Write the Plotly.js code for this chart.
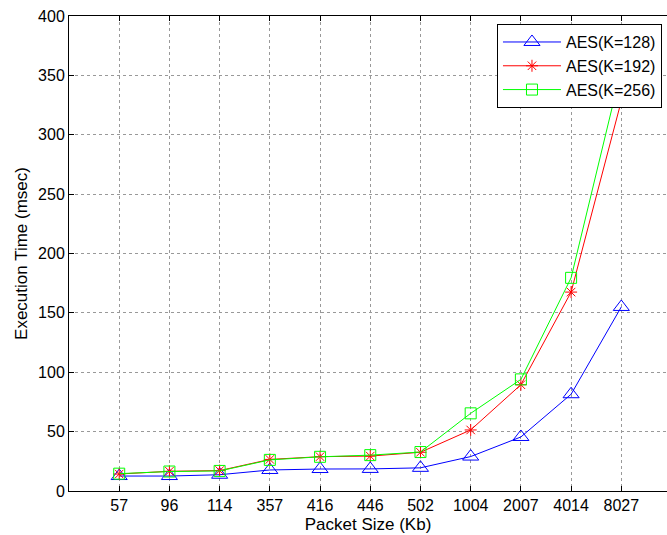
<!DOCTYPE html>
<html>
<head>
<meta charset="utf-8">
<script src="https://cdn.plot.ly/plotly-3.0.1.min.js"></script>
<style>html,body{margin:0;padding:0;background:#fff;}#chart{width:667px;height:535px;}</style>
</head>
<body>
<div id="chart"></div>
<script>
const packetSizes = ["57", "96", "114", "357", "416", "446", "502", "1004", "2007", "4014", "8027"];
const aes128 = [12.6, 12.6, 13.7, 17.7, 18.5, 18.6, 19.5, 29, 45.5, 81.5, 155];
const aes192 = [14.3, 16.6, 17.2, 26.6, 28.9, 29.4, 32.6, 51.4, 89.5, 167.5, 328.5];
const aes256 = [14.6, 16.4, 16.9, 26.2, 28.8, 30.2, 32.8, 65.4, 94, 179.5, 355];
const seriesNames = ["AES(K=128)", "AES(K=192)", "AES(K=256)"];

const font = "Liberation Sans, Arial, Helvetica, sans-serif";

const traces = [
  {x: packetSizes, y: aes128, name: seriesNames[0], mode: "lines+markers",
   line: {color: "#0000ff", width: 1},
   marker: {symbol: "triangle-up-open", size: 14, color: "#0000ff", line: {width: 1, color: "#0000ff"}}},
  {x: packetSizes, y: aes192, name: seriesNames[1], mode: "lines+markers",
   line: {color: "#ff0000", width: 1},
   marker: {symbol: "asterisk-open", size: 10, color: "#ff0000", line: {width: 1, color: "#ff0000"}}},
  {x: packetSizes, y: aes256, name: seriesNames[2], mode: "lines+markers",
   line: {color: "#00ff00", width: 1},
   marker: {symbol: "square-open", size: 11, color: "#00ff00", line: {width: 1, color: "#00ff00"}}}
];

const layout = {
  width: 667, height: 535,
  margin: {l: 69, r: 0, t: 16, b: 44},
  paper_bgcolor: "#ffffff", plot_bgcolor: "#ffffff",
  font: {family: font, size: 16, color: "#000"},
  showlegend: true,
  legend: {x: 0.9916, y: 0.983, xanchor: "right", yanchor: "top",
           bgcolor: "#ffffff", bordercolor: "#000", borderwidth: 1,
           itemwidth: 58,
           font: {family: font, size: 16, color: "#000"}, tracegroupgap: 0},
  xaxis: {
    type: "category", range: [-1, 10.91],
    title: {text: "Packet Size (Kb)", font: {family: font, size: 17}, standoff: 4},
    showline: true, linecolor: "#000", linewidth: 1, mirror: "ticks",
    ticks: "inside", ticklen: 5, tickcolor: "#000",
    showgrid: true, gridcolor: "#999", griddash: "dot", gridwidth: 1,
    zeroline: false, tickfont: {family: font, size: 16}
  },
  yaxis: {
    range: [0, 400], dtick: 50,
    title: {text: "Execution Time (msec)", font: {family: font, size: 17}, standoff: 6},
    showline: true, linecolor: "#000", linewidth: 1, mirror: false,
    ticks: "inside", ticklen: 5, tickcolor: "#000",
    showgrid: true, gridcolor: "#999", griddash: "dot", gridwidth: 1,
    zeroline: false, tickfont: {family: font, size: 16}
  }
};

Plotly.newPlot("chart", traces, layout, {displayModeBar: false, staticPlot: true});
</script>
</body>
</html>
